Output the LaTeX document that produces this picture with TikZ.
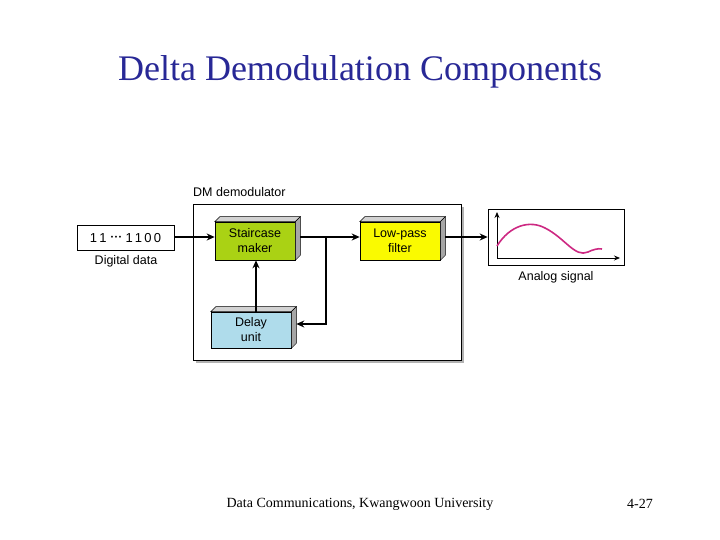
\documentclass[tikz,border=0pt]{standalone}
\usepackage{fontspec}
\setmainfont{Liberation Serif}
\newfontfamily\dsans{Liberation Sans}
\usetikzlibrary{arrows.meta}
\definecolor{titleblue}{RGB}{40,40,150}
\definecolor{lime}{RGB}{170,210,20}
\definecolor{yel}{RGB}{250,250,0}
\definecolor{lblue}{RGB}{175,220,235}
\definecolor{mag}{RGB}{205,40,130}
\tikzset{
 blk/.style={draw,line width=0.6pt,minimum width=80pt,minimum height=38pt,align=center,font=\dsans\fontsize{12.5}{15}\selectfont,inner sep=0pt},
 arr/.style={line width=1.3pt,-{Stealth[length=8pt,width=7pt]}},
 lbl/.style={font=\dsans\fontsize{12.5}{14}\selectfont}
}
\newcommand{\depthbox}[1]{%
 \fill[gray!35,draw=black,line width=0.5pt] (#1.north west) -- ++(5,-5) -- ([shift={(5,-5)}]#1.north east) -- (#1.north east) -- cycle;
 \fill[gray!70,draw=black,line width=0.5pt] (#1.north east) -- ++(5,-5) -- ([shift={(5,-5)}]#1.south east) -- (#1.south east) -- cycle;
}
\begin{document}
\begin{tikzpicture}[x=1pt,y=-1pt]
\useasboundingbox (0,0) rectangle (720,540);
\node[font=\fontsize{36}{40}\selectfont,text=titleblue] (title) at (360,72) {Delta Demodulation Components};
% DM box
\fill[gray!60] (196,207) rectangle (464,363);
\node[draw,fill=white,line width=0.7pt,minimum width=268pt,minimum height=156pt,inner sep=0pt] (dm) at (327,282) {};
\node[lbl,anchor=south west,inner sep=0pt] (dmlbl) at (193,197) {DM demodulator};
% data
\node[draw,fill=white,line width=0.6pt,minimum width=97pt,minimum height=25pt,inner sep=0pt,font=\dsans\fontsize{13}{14}\selectfont] (data) at (125.5,238) {1\,1\,\,\raisebox{2.5pt}{\fontsize{7}{7}\selectfont\textbullet\kern1.5pt\textbullet\kern1.5pt\textbullet}\,\,1\,1\,0\,0};
\node[lbl,anchor=north] (datalbl) at (126,252) {Digital data};
% blocks
\node[blk,fill=lime] (sc) at (255,241) {Staircase\\maker};
\node[blk,fill=yel] (lpf) at (400,241) {Low-pass\\filter};
\node[blk,fill=lblue,minimum height=36pt] (del) at (251,330) {Delay\\unit};
\depthbox{sc}\depthbox{lpf}\depthbox{del}
% analog
\node[draw,fill=white,line width=0.6pt,minimum width=136pt,minimum height=56pt,inner sep=0pt] (an) at (556,237) {};
\node[lbl,anchor=north] (anlbl) at (556,268) {Analog signal};
\coordinate (o) at (497,258);
\coordinate (yt) at (497,212);
\coordinate (xt) at (620,258);
\draw[line width=0.8pt,-{Stealth[length=6pt,width=5pt]}] (o) -- (yt);
\draw[line width=0.8pt,-{Stealth[length=6pt,width=5pt]}] (o) -- (xt);
\draw[mag,line width=1.6pt] (497,246) .. controls (510,225) and (530,220) .. (545,228) .. controls (565,238) and (575,258) .. (588,252) .. controls (592,250) and (598,248) .. (602,249);
% connectors
\coordinate (br) at (326,237);
\coordinate (bd) at (326,324);
\draw[arr] (data.east |- br) -- (sc.west |- br);
\draw[arr] ([xshift=5pt]sc.east |- br) -- (lpf.west |- br);
\draw[arr] (br) -- (bd) -- ([shift={(5,0)}]del.east |- bd);
\coordinate (up) at (256,312);
\draw[arr] (del.north -| up) -- (sc.south -| up);
\draw[arr] ([xshift=5pt]lpf.east |- br) -- (an.west |- br);
% footer
\node[font=\fontsize{14}{16}\selectfont] (foot) at (360,504) {Data Communications, Kwangwoon University};
\node[font=\fontsize{14}{16}\selectfont] (pg) at (640,504) {4-27};
\end{tikzpicture}
\end{document}
